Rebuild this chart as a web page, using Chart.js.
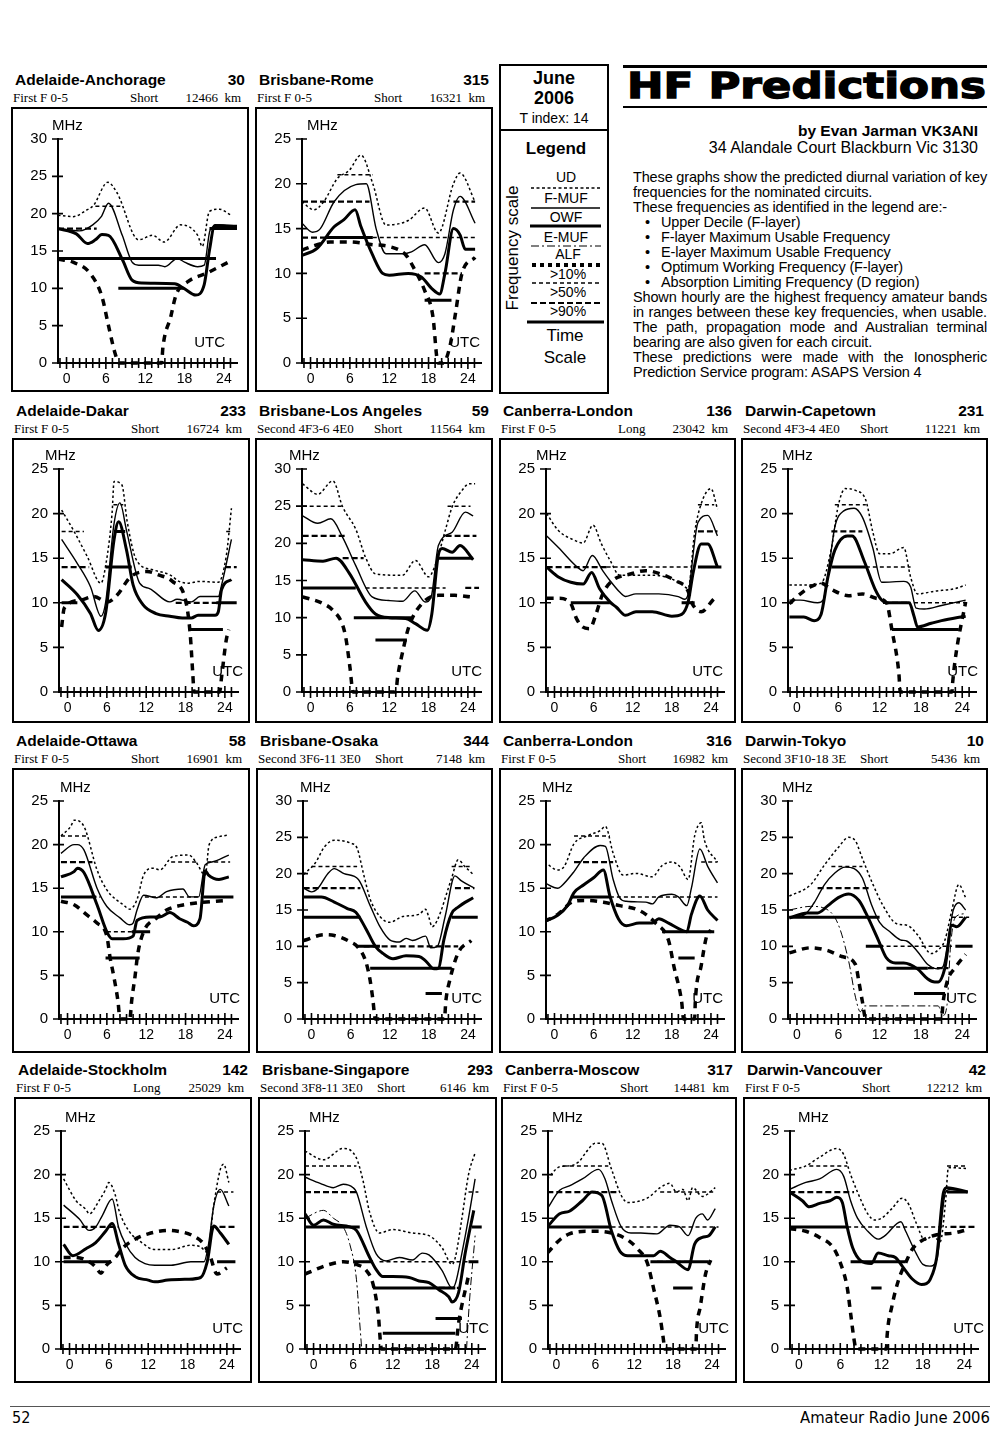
<!DOCTYPE html>
<html>
<head>
<meta charset="utf-8">
<script src="https://cdn.jsdelivr.net/npm/chart.js@4.4.1/dist/chart.umd.min.js"></script>
<style>
  body { margin: 0; width: 1000px; height: 1433px; position: relative; overflow: hidden; background: #fff; color: #000; font-family: "Liberation Sans", Arial, sans-serif; }
  .box { position: absolute; border: 2px solid #000; box-sizing: border-box; background: #fff; }
  .box canvas { position: absolute; left: 0; top: 0; }
  .ttl { position: absolute; font-weight: bold; font-size: 15.5px; line-height: 18px; white-space: nowrap; }
  .sub { position: absolute; font-family: "Liberation Serif", "Times New Roman", serif; font-size: 13px; line-height: 14px; white-space: nowrap; }
  .t { position: absolute; white-space: nowrap; }
  .body-text { position: absolute; left: 633px; top: 170px; width: 354px; font-size: 14.5px; line-height: 15px; letter-spacing: -0.15px; }
  .body-text div { white-space: nowrap; }
  .body-text .b { position: relative; padding-left: 28px; }
  .body-text .b::before { content: "\2022"; position: absolute; left: 12px; }
</style>
</head>
<body>
<script>
// hour labels of the time axis
const hourLabels = [0, 6, 12, 18, 24];

// [hour, MHz] values; bands are [from hour, to hour, band MHz]
const aaUD = [[-1.3,19.8],[1,19.6],[3.1,20.5],[4.1,21.1],[6.3,24.2],[7.7,22.8],[11,16.5],[13.1,17.1],[14.9,16.2],[17.4,18.5],[20,17.1],[20.7,15.6],[21.8,20.3],[23.3,20.6],[25.1,19.8]];
const aaFMUF = [[-1.3,18],[2,17.7],[4,18.5],[5.3,19.6],[6.4,21.4],[8.5,17.1],[10,13.5],[11,13.1],[14,13.1],[15,12.9],[16.9,14],[18,13.5],[20,12.9],[21,13.1],[21.9,17.8],[23.3,18.5],[25.6,18.2]];
const aaOWF = [[-1.3,18],[1.5,17.3],[3.2,16],[4.4,16.5],[5.4,17.2],[6.4,17.1],[8.5,13.9],[10,11.1],[11.5,10.7],[16.5,10.6],[17.9,10],[19.7,9.1],[21,10.5],[21.8,15.1],[22.6,18.4],[26,18.3]];
const aaALF = [[-1.3,13.9],[1,13.5],[3.6,12],[5.4,8.9],[6.4,5],[7.4,1.3],[8,0],[14.5,0],[14.7,2.1],[15.9,6.2],[16.7,9.1],[18.5,10.9],[21.3,12],[24.9,13.6]];
const aaP10 = [[4.4,8.2,21]];
const aaP50 = [[-1.3,4.6,18]];
const aaP90 = [[-1.3,22.8,14],[7.9,17.9,10],[21.8,26,18]];

const brUD = [[-1.3,18],[0.5,17.1],[2,18],[4.1,20.6],[5.9,21.5],[7.7,23.2],[9.5,20],[11.5,15.4],[14.9,15.9],[17.4,17.3],[19.5,14.5],[21.8,20],[22.8,21.2],[25.1,18]];
const brFMUF = [[-1.3,15.6],[0.3,14.6],[1.5,15],[3.6,18],[6.9,19.9],[8.5,20],[10,15],[11.5,12.2],[14.1,12.2],[15.4,12.4],[17.4,13.2],[19.5,11.2],[20.5,12.2],[21.8,17.1],[22.8,18.6],[25.1,15.6]];
const brOWF = [[-1.3,12],[1,12.8],[3.6,15.2],[5.1,16],[6.8,17.1],[7.7,15.2],[9.5,12],[11,10],[12,9.8],[14.9,10],[16.9,9.6],[18.5,8.3],[19.7,7.7],[20.5,10],[21.8,15],[22.8,14.3],[23.6,12.7],[25.1,12.7]];
const brALF = [[-1.3,12.6],[1,13.2],[3,13.5],[6,13.5],[9.5,13.2],[12,13],[14.6,12],[15.9,10.4],[17.4,8.1],[18.7,5],[19.2,1],[19.4,0],[20.2,0],[21.3,2],[22.1,5.5],[23.1,10],[25.1,11.8]];
const brP10 = [[4.1,9.5,21],[9.5,25.1,14]];
const brP50 = [[-1.3,9,18],[-1.3,2.3,14],[17.4,23.1,10],[21.8,25.1,18]];
const brP90 = [[2.3,9.5,14],[17.4,21.5,7]];

const adUD = [[-0.9,20.4],[1,18],[3,15.2],[5.1,12.2],[5.8,14.1],[6.8,20.1],[7.1,23.6],[8.3,23.2],[9.1,19.1],[10.5,14.8],[13,13.7],[15.7,13.1],[17,12.4],[18.5,12.2],[20,12.4],[23,12.3],[24.2,15.2],[25,20.6]];
const adFMUF = [[-0.9,17.1],[1.5,14.4],[3.5,11.8],[5.1,8.5],[5.8,10],[7.1,18.9],[8,21.2],[9,18.1],[11,12.2],[12.5,11.6],[15.6,10.1],[16.7,10.4],[18.9,10.1],[20.2,10.7],[23,10.7],[23.5,12],[25,17.1]];
const adOWF = [[-0.9,12.6],[1.5,10.9],[3.5,8.8],[4.7,6.9],[5.8,8.8],[7.1,17.1],[7.8,19.1],[9,15.9],[10,12],[11.5,9.8],[13.5,8.8],[15.6,8.5],[17.5,8.3],[18.9,8.3],[19.9,8.6],[22.5,8.6],[23,9],[23.5,11.5],[25,12.6]];
const adALF = [[-0.9,7.3],[-0.5,9.4],[2,10.3],[4,10.7],[6.1,10.1],[7.6,10.9],[9.6,12.9],[12.1,13.5],[14,13.1],[16,12.4],[18,10.3],[18.7,6.6],[19.1,2.1],[19.3,0],[23.2,0],[23.5,1.7],[24.2,5.8],[24.6,7]];
const adP10 = [[-0.9,2.5,18],[7,8.5,21],[24.2,25,18]];
const adP50 = [[-0.9,3.3,14],[16.5,23,10],[24,25.8,14]];
const adP90 = [[-0.9,1.5,10],[5.8,9.8,14],[7.1,8.8,18],[18.7,23.7,7],[22.7,25.8,10]];

const blaUD = [[-1.2,28],[1.1,26.6],[3.4,28.4],[4.9,24.9],[6.9,21.9],[8.4,18.1],[9.9,15.9],[14,15.7],[16,17.7],[18,15.5],[19,17],[20.6,21.9],[21.6,24.9],[23,27],[24.2,28],[25.1,28]];
const blaFMUF = [[-1.2,23.7],[1.1,22.7],[3.1,23.3],[4.9,20.8],[6.9,17],[9.4,12.8],[12,12.3],[14,12.2],[15.9,13.6],[17.5,12.1],[18.4,12.8],[19.5,19.7],[21.6,21.5],[23.6,24.2],[24.8,23.7]];
const blaOWF = [[-1.2,17.8],[1.9,17.6],[3.9,18],[5.9,16],[8.4,12.1],[9.9,10.5],[12,10],[14.5,9.9],[16,9.2],[17.8,8.3],[18.5,10.5],[19.5,18.5],[20.1,19.3],[21.6,18.8],[22.8,19.7],[24.8,17.8]];
const blaALF = [[-1.2,12.8],[1.9,11.9],[3.4,11],[4.9,9],[5.4,7.2],[6,3.4],[6.5,0],[13,0],[13.3,2.1],[14,5.2],[15,8.8],[17,11.9],[19.5,13],[22,13],[24.3,12.8]];
const blaP10 = [[-1.2,4.9,25],[20.9,24.4,25],[8.4,20.6,14]];
const blaP50 = [[-1.2,5.6,21],[4.9,8.1,18],[20.6,25.3,21],[23.6,25.7,14]];
const blaP90 = [[-1.2,6.9,14],[6.6,15.4,10],[9.9,14.7,7],[19.5,24.8,18]];

const clUD = [[-1.2,20],[0.6,18.1],[3.1,17],[4.4,16.7],[5.9,18.7],[7.2,16.6],[8.5,14.8],[10,13.1],[14,13.1],[17.1,12.9],[19.5,12.1],[20.5,11.6],[21.5,17.9],[22.5,21.1],[24,22.8],[25,20.5]];
const clFMUF = [[-1.2,17.5],[0.6,16.2],[3.5,14],[4.4,13.6],[5.8,15.3],[7.4,13.6],[8.5,12.5],[10,11.2],[10.9,10.7],[12.5,11],[16,11],[19,10.7],[20,10.4],[20.5,11],[22,19],[23.5,19.8],[25,17.5]];
const clOWF = [[-1.2,14],[0.6,12.9],[2.5,12.3],[4.4,12.1],[5.7,13.4],[6.9,11.6],[8.5,10.1],[9.5,9.5],[10.9,8.6],[12.5,9],[15,9],[18,8.5],[19.5,8.7],[20.5,10.1],[21.3,13.5],[22.5,16.6],[23.5,16.6],[25,14]];
const clALF = [[-1.2,10.5],[0.6,10.5],[2.5,9.9],[3.4,8.2],[4.3,7.3],[5.4,7.1],[6.4,8.8],[7.4,11],[8.9,12.5],[11.5,13.2],[14,13.6],[16,13.3],[18.5,12.5],[20.5,11.3],[21,10.1],[22.5,9],[24.4,10.4]];
const clP10 = [[8,21,14],[22,24.5,21]];
const clP50 = [[-1.2,8,14],[22,25,18]];
const clP90 = [[2.5,8.5,10],[19.5,21.5,10],[22,25.6,14]];

const dcUD = [[-1.1,12],[1,12],[3.5,12.2],[5,16.1],[6,20.9],[7,22.8],[8.5,22.6],[10,21.5],[11,18],[12,15.5],[13.5,15.5],[15.5,16.2],[16.5,12.9],[17.5,11],[20,11.3],[23,11.6],[24.5,12]];
const dcFMUF = [[-1.1,10.3],[0.5,10.3],[3,10],[3.8,10.3],[4.8,14.9],[5.5,18.5],[6.8,20.3],[8.3,20.6],[9.5,19.6],[11,16.2],[12.3,12.3],[15.5,12.4],[16.5,11.8],[17.3,9.4],[18.5,9.3],[21,9.7],[24.5,10.3]];
const dcOWF = [[-1.1,8.4],[1,8.4],[2.5,8],[3.5,8.7],[4.5,12.9],[5.5,15.9],[7.3,17.5],[8,17.5],[9.8,14.6],[11.3,11.6],[12.3,10.3],[13,10],[16.3,10],[17,8.5],[17.5,7.3],[19.5,7.7],[21,8],[24.5,8.5]];
const dcALF = [[-1.1,9.9],[0.5,11],[2,11.8],[3.5,12.2],[5,11.5],[7.5,10.8],[9.5,11],[11.5,10.5],[13,10],[13.8,6.9],[14.8,2.1],[15,0],[22.5,0],[22.6,1],[23.1,4.3],[24.5,10.1]];
const dcP10 = [[5.5,10,21],[10,16.5,14],[17,24.8,10]];
const dcP50 = [[5,9.5,18],[12.5,16.5,10]];
const dcP90 = [[5,10,14],[13.8,23.5,7]];

const aoUD = [[-1,21],[0.5,22.1],[1,22.8],[2.5,22.1],[4.5,17.1],[6,14.8],[8.5,13.1],[9.5,12.6],[10.6,13.7],[11.6,16.5],[13.1,17.3],[14.1,17.1],[16,18.6],[18.5,18.8],[19.6,18],[21,16.5],[21.6,20],[23.1,20.9],[24.6,21.1]];
const aoFMUF = [[-1,19],[1,20],[1.5,20],[2.5,19.4],[4.5,15],[6,12.9],[8,11.6],[9.5,10.8],[10,11],[10.6,12.5],[11.6,14.2],[13.6,13.9],[15.1,14.6],[17.6,14.9],[18.6,14],[20,14],[21,17.7],[22,18],[24.6,18.8]];
const aoOWF = [[-1,16.3],[1,16.9],[1.5,17.3],[2.5,16.8],[4.5,13.1],[6,10],[6.8,9.2],[8.5,9.2],[10,9.5],[10.6,11.3],[12.6,11.7],[14.1,11.7],[15.6,12.2],[17.1,11.5],[18.3,11.1],[19.2,10.7],[20.2,11.5],[21,17],[21.5,16.5],[23.1,16],[24.6,16.3]];
const aoALF = [[-1,13.5],[1,13.1],[3,11.9],[4.5,11],[6,9.5],[6.5,7],[7,5.1],[7.7,2],[8,0],[9.5,0],[9.8,2.2],[10.3,4.9],[10.7,7.4],[11.6,10],[13.6,11.6],[15.1,12.5],[17.1,13],[19.6,13.3],[24.1,13.6]];
const aoP10 = [[-1,3,21],[6,11.8,10],[11.8,21,14],[15.8,19.8,18],[21.3,24.8,18]];
const aoP50 = [[-1,3.8,18],[3.5,5,14]];
const aoP90 = [[-1,4.3,14],[5.8,11,7],[9.8,12.6,10],[20.8,25.3,14]];

const boUD = [[-1.2,19.9],[0.6,21.5],[2,23.7],[3.5,24.6],[6,24.2],[7,23.5],[8,19.9],[9,16.5],[10.5,14.1],[12,13.3],[14,14.1],[16.5,14.4],[17.5,15.1],[18,14],[18.5,12.7],[19.3,13.6],[21.5,19.4],[22.5,21.9],[23.5,21],[24.8,19.9]];
const boFMUF = [[-1.2,18],[0,17.5],[1,18],[2.5,20],[3.5,20.7],[5,20],[7.2,19.2],[9,15.6],[10.5,12.7],[12,10.9],[13.5,10.6],[14.5,11.1],[15.5,10.8],[17.5,11.4],[18.3,9.8],[19.3,10],[20.5,14.1],[22,19.7],[23,19],[24.8,18.1]];
const boOWF = [[-1.2,16.8],[1.5,16.8],[3.5,16.1],[5.5,15.2],[6.8,14.7],[8.3,12.5],[9.8,10],[11,9],[12.5,8.3],[14.5,8.7],[16.5,8.6],[17.5,8],[18.8,6.9],[19.5,7],[20.3,10.9],[21.5,14.5],[22.5,15.4],[24.8,16.7]];
const boALF = [[-1.2,10.8],[2,11.6],[3.5,11.5],[6,10.6],[7,10],[8.3,8],[9,5.3],[9.4,2.8],[9.8,0],[20.4,0],[20.6,2.4],[21.2,5.3],[22.5,9.1],[24.5,10.8]];
const boP10 = [[0,7,21],[21.5,24.5,21]];
const boP50 = [[-1.2,7.5,18],[8,22.5,10],[22,25,18]];
const boP90 = [[-1.2,7.5,14],[7,10.5,10],[9,21.5,7],[17.5,20,3.5],[21.5,25.5,14]];

const cl2UD = [[-1.5,18],[0.5,17.1],[1.5,17.5],[3,20.1],[5,21],[7,21.6],[7.8,22.1],[9,19],[10.5,16.5],[12.5,16.7],[15,16.3],[16.5,17.6],[18,18],[19.2,17.5],[20.5,16],[21.5,21],[22.5,22.5],[23,20.5],[25,18]];
const cl2FMUF = [[-1.5,15.6],[0.5,15],[1,15.2],[3,16.9],[4.5,18.5],[7,19.9],[7.8,19.8],[9,16],[10,13.9],[11,13.5],[14,13.4],[15,13.2],[16,14],[18,14.3],[19,14],[20.3,13],[21,15],[22.3,19.5],[23.5,17.5],[25,15.6]];
const cl2OWF = [[-1.5,11.2],[0.5,11.9],[2,13],[3,14.5],[4.5,15.4],[6,16.2],[7.5,17.1],[8.5,14.1],[9.8,11.5],[11,10.7],[13,11],[15,11],[16,11.5],[17.5,11],[19.5,10.2],[20.3,10],[21,12],[22.3,14.1],[23.5,12.5],[25,11.3]];
const cl2ALF = [[-1.5,11.2],[0.5,12],[3,13.5],[5,13.6],[7.5,13.4],[10,13],[12.5,12.6],[14,12],[15.5,11],[17.5,9],[18.3,6.1],[19.5,2],[19.8,0],[21.5,0],[21.6,2],[22.5,6.1],[23.3,9.4],[24,10.2]];
const cl2P10 = [[3,8.5,21],[8.5,25,14],[22.5,25,18]];
const cl2P50 = [[3,9,18]];
const cl2P90 = [[2.5,8.5,14],[16.5,24.5,10],[19,21.5,7]];

const dtUD = [[-1.1,16.9],[2,18.5],[4,21.2],[6,23.6],[7.5,25],[8.5,24.5],[9.5,22.1],[11,18.6],[12.5,15.6],[14.5,13.1],[16,12.9],[17.5,11.6],[19.5,9],[20.5,9.5],[21.5,10.9],[22.5,15],[23.5,18.5],[24.5,16.7]];
const dtFMUF = [[-1.1,14],[1,14.3],[2.5,16],[4,18.5],[5.5,20.1],[7,20.9],[8.3,20.7],[9.5,19.4],[10.8,15.8],[12,13.3],[13.5,12],[15,10.9],[16,10.7],[17.5,9.3],[19,7.5],[20.5,6.9],[21.2,7.2],[22.3,13],[22.7,15],[23.5,16],[24.5,15]];
const dtOWF = [[-1.1,13.9],[1.5,14.6],[3,14.6],[4.5,15.6],[6,16.7],[7.5,17.2],[9,16.3],[10,14.6],[11.8,10.9],[13,8.4],[14.3,7.7],[15.5,7.7],[17.5,6.9],[19,5.5],[20,5.1],[20.5,5.1],[21.5,7.1],[22.5,12.9],[23.2,12.7],[24.5,14]];
const dtEMUF = [[-1.1,15],[2,15.5],[4.5,15],[6,13],[7.5,8],[8.5,3],[9.2,1],[9.8,1.8],[20.5,1.8],[21.2,0.5],[21.8,2],[22.3,10],[23,14],[24.5,14.5]];
const dtALF = [[-1.1,9.1],[2,9.8],[4.5,9.4],[6.5,8.6],[8.5,7.5],[9,5.1],[9.5,2.4],[10,0],[21,0],[21.2,2.1],[21.8,5.1],[23,7.1],[24.5,8.9]];
const dtP10 = [[5,9.5,21],[12,22.5,10],[22.5,25,14]];
const dtP50 = [[3,10.5,18],[19,22,7]];
const dtP90 = [[-1.1,12,14],[10,12.5,10],[13,19,7],[17,21.5,3.5],[23,25.5,10]];

const astUD = [[-0.9,19.5],[1,17],[2.5,16],[3,15.5],[4.5,17],[5.5,18.3],[6,19.1],[7,17.6],[7.5,16],[9,13.6],[11,12.2],[13,11.4],[15.5,11.4],[18.5,11.9],[20,11.7],[21,11.1],[22,16.5],[23,20.6],[23.5,21.2],[24.3,19.1]];
const astFMUF = [[-0.9,16.5],[1.5,14.9],[3,13.6],[4,14],[5,15.3],[6.5,17.2],[7.5,13.9],[8.5,12.1],[10,10.5],[11.5,9.8],[13,9.6],[15.5,9.6],[18.5,10],[20.5,10],[21.2,12],[22,16.4],[23,18.3],[24.3,16.4]];
const astOWF = [[-0.9,12],[0.5,10.7],[2.5,11.5],[4,12.2],[5.5,13.5],[6.5,14.4],[7.5,12],[8.5,9.6],[10,8.3],[12,7.9],[13,7.7],[15,7.9],[18,8],[20,8.2],[21,10],[22,14.1],[23,13.3],[24.3,12]];
const astALF = [[-0.9,10.5],[1,10.5],[3,10],[4,9.4],[4.8,8.7],[5.5,9.5],[7,10.5],[8,11.5],[10,12.6],[12,13.2],[15,13.6],[16.5,13.5],[18.5,13.1],[20.5,12],[21.5,10.5],[22.5,8.6],[24,9.3]];
const astP10 = [[22.5,25,18]];
const astP50 = [[-0.9,7.5,14],[21.5,25.3,14]];
const astP90 = [[-0.9,6.3,10],[22.5,25.3,10]];

const bsUD = [[-1.3,22.7],[1.5,21.7],[4.5,23],[6.5,21.9],[7.5,19.3],[8.5,15.7],[10,13.3],[12,13.7],[15,13.3],[17.5,13],[19.5,11.6],[21,9.7],[21.5,10.5],[22.5,15],[23.5,20],[24.5,22.5]];
const bsFMUF = [[-1.3,19.7],[1,19],[3,18.5],[4.5,18.9],[6,18.5],[6.5,18],[8,14],[9.5,10.9],[11,10.1],[13,10.5],[15,10.2],[16.5,11],[17.5,10.8],[19.5,9],[21,7],[21.5,7.5],[22.5,11],[23.5,15],[24.5,19.5]];
const bsOWF = [[-1.3,15.5],[0,14.2],[1.5,14.8],[3,14.3],[5.5,14],[6.5,13.6],[8.5,10.5],[9.5,9.1],[10.5,8.3],[12,8.3],[14.5,8.2],[16,7.8],[17.5,7.6],[19,6.8],[20.5,6],[21,5.4],[22,6.5],[23,11],[24.3,15.9]];
const bsEMUF = [[-1.3,15],[1.5,15.9],[3,15],[4.5,14],[5.5,12],[6.5,8],[7,3],[7.3,0],[15,null],[23.2,0],[23.6,5],[24.5,13]];
const bsALF = [[-1.3,8.6],[2,9.6],[4.5,10],[6.5,9.7],[8,9],[9,7.5],[9.8,4.1],[10.3,0],[21.5,0],[22,3],[23.5,8.4]];
const bsP10 = [[-1.3,6.5,21],[10,24.5,10],[23.5,25,18]];
const bsP50 = [[-1.3,6.5,18],[19,22,7]];
const bsP90 = [[-1.3,7,14],[6,9,10],[9,21.5,7],[10.5,21.5,1.8],[18.5,22.5,3.5],[23.5,25,10],[24,25.5,14]];

const cmUD = [[-1.4,19.5],[0.5,20.9],[2,21],[3.5,21.5],[4.5,22.5],[6,23.6],[7,23.6],[8.5,20.6],[10,17.6],[11,16.8],[14,17.3],[16,18.5],[17.5,19],[18.5,18],[19.5,18.3],[20.3,17],[21,18.5],[22.5,17.5],[24.5,18.5]];
const cmFMUF = [[-1.4,16.1],[0.5,18.2],[2,18.7],[4,19.5],[6.5,20.6],[7.5,19.5],[8.5,17],[10,14],[11.5,13.3],[13,13.3],[15.5,13.2],[17.5,14.2],[19,14],[20.3,13],[21.5,15],[22.5,15.5],[23.3,14.8],[24.5,16.1]];
const cmOWF = [[-1.4,14],[0.5,15.5],[2,15.8],[4,17],[5.5,18],[7,17.6],[8.5,13.5],[9.8,11.2],[11,10.7],[13.5,10.7],[15,10.7],[16,11.2],[17.5,10.5],[18.5,10],[20.3,9.1],[21.3,12],[22.5,12.8],[23.5,13],[24.5,14]];
const cmALF = [[-1.4,11],[0.5,12.5],[2,13.2],[4.5,13.5],[6.5,13.5],[9,13.2],[11,12.5],[12.5,11.5],[14,9.9],[15,6.9],[16,3.6],[16.5,1.1],[16.7,0],[21.5,0],[21.6,1.9],[22.2,4.9],[23,8.6],[23.8,10.2]];
const cmP10 = [[1,8,21],[8.5,25,14],[16,24.5,18]];
const cmP50 = [[-1.4,9.5,18],[15.5,21,10]];
const cmP90 = [[-1.4,8.5,14],[14.5,23.5,10],[18,21,7]];

const dvUD = [[-1.4,20.5],[1,21],[3,22],[5.5,23],[6.5,22.3],[7.5,20],[8.5,18],[10,15.5],[11,14.8],[12,15],[13.5,16.1],[15,17.3],[16,16.5],[17,14.5],[18.3,12.5],[19.5,13],[20.5,12.3],[21.3,17],[21.7,20.8],[24.5,20.7]];
const dvFMUF = [[-1.4,18.3],[1,19.1],[3,19.5],[5.5,20.6],[6.5,19.8],[7.5,17],[8.5,15],[10,13.5],[11.5,12.6],[12.5,13],[14.8,14.6],[15.5,13.5],[17,11],[18,9.7],[19,9.5],[20,10.2],[21.3,18],[22,18.3],[24.5,18]];
const dvOWF = [[-1.4,18],[0.5,17],[1.5,16.3],[3,16.7],[4.5,17],[5.5,17.4],[6.3,16.8],[7,14],[7.8,11.6],[9,10.1],[10.5,9.8],[11.5,11],[13,10.7],[14,10.5],[15,9.5],[16.5,8],[17.8,7.4],[18.5,7.5],[19,7.9],[20,10.5],[21,18],[21.5,18.5],[24.5,18]];
const dvALF = [[-1.4,13.8],[1,13.5],[3,12.8],[5,11.6],[6,9.9],[7,7.1],[7.5,4.1],[8,1.1],[8.3,0],[12.7,0],[12.8,1.5],[13.5,4.9],[14.5,8],[15.5,9.9],[16.5,11.5],[18,12.5],[20,13.1],[22.5,13.3],[24.5,13.7]];
const dvP10 = [[1.5,7,21],[21.5,24.5,21],[7,21.5,14]];
const dvP50 = [[-1.4,8,18],[22,25.5,14]];
const dvP90 = [[-1.4,7,14],[7.5,15.5,10],[10.5,12,7],[21.5,24.5,18]];

// page grid of the graph boxes
const rowTop = [107, 438, 768, 1097];
const rowH = [285, 285, 285, 286];
const colLeft = [[11, 255], [12, 255, 499, 741], [12, 256, 499, 741], [14, 258, 501, 743]];
const colW = [[238, 238], [238, 238, 237, 247], [238, 237, 237, 247], [238, 239, 236, 247]];
const plotTop = [32, 31, 33, 34];
const plotBottom = [256, 254, 251, 252];

const charts = [
  { title: "Adelaide-Anchorage", bearing: "30", mode: "First F 0-5", path: "Short", dist: "12466", ymax: 30, row: 0, col: 0, mhzDx: -6, utcDx: 24, ud: aaUD, fmuf: aaFMUF, owf: aaOWF, emuf: [], alf: aaALF, p10: aaP10, p50: aaP50, p90: aaP90 },
  { title: "Brisbane-Rome", bearing: "315", mode: "First F 0-5", path: "Short", dist: "16321", ymax: 25, row: 0, col: 1, mhzDx: 5, utcDx: 13, ud: brUD, fmuf: brFMUF, owf: brOWF, emuf: [], alf: brALF, p10: brP10, p50: brP50, p90: brP90 },
  { title: "Adelaide-Dakar", bearing: "233", mode: "First F 0-5", path: "Short", dist: "16724", ymax: 25, row: 1, col: 0, mhzDx: -14, utcDx: 7, ud: adUD, fmuf: adFMUF, owf: adOWF, emuf: [], alf: adALF, p10: adP10, p50: adP50, p90: adP90 },
  { title: "Brisbane-Los Angeles", bearing: "59", mode: "Second 4F3-6 4E0", path: "Short", dist: "11564", ymax: 30, row: 1, col: 1, mhzDx: -13, utcDx: 11, ud: blaUD, fmuf: blaFMUF, owf: blaOWF, emuf: [], alf: blaALF, p10: blaP10, p50: blaP50, p90: blaP90 },
  { title: "Canberra-London", bearing: "136", mode: "First F 0-5", path: "Long", dist: "23042", ymax: 25, row: 1, col: 2, mhzDx: -10, utcDx: 13, ud: clUD, fmuf: clFMUF, owf: clOWF, emuf: [], alf: clALF, p10: clP10, p50: clP50, p90: clP90 },
  { title: "Darwin-Capetown", bearing: "231", mode: "Second 4F3-4 4E0", path: "Short", dist: "11221", ymax: 25, row: 1, col: 3, mhzDx: -6, utcDx: 10, ud: dcUD, fmuf: dcFMUF, owf: dcOWF, emuf: [], alf: dcALF, p10: dcP10, p50: dcP50, p90: dcP90 },
  { title: "Adelaide-Ottawa", bearing: "58", mode: "First F 0-5", path: "Short", dist: "16901", ymax: 25, row: 2, col: 0, mhzDx: 1, utcDx: 10, ud: aoUD, fmuf: aoFMUF, owf: aoOWF, emuf: [], alf: aoALF, p10: aoP10, p50: aoP50, p90: aoP90 },
  { title: "Brisbane-Osaka", bearing: "344", mode: "Second 3F6-11 3E0", path: "Short", dist: "7148", ymax: 30, row: 2, col: 1, mhzDx: -3, utcDx: 11, ud: boUD, fmuf: boFMUF, owf: boOWF, emuf: [], alf: boALF, p10: boP10, p50: boP50, p90: boP90 },
  { title: "Canberra-London", bearing: "316", mode: "First F 0-5", path: "Short", dist: "16982", ymax: 25, row: 2, col: 2, mhzDx: -4, utcDx: 13, ud: cl2UD, fmuf: cl2FMUF, owf: cl2OWF, emuf: [], alf: cl2ALF, p10: cl2P10, p50: cl2P50, p90: cl2P90 },
  { title: "Darwin-Tokyo", bearing: "10", mode: "Second 3F10-18 3E", path: "Short", dist: "5436", ymax: 30, row: 2, col: 3, mhzDx: -6, utcDx: 11, ud: dtUD, fmuf: dtFMUF, owf: dtOWF, emuf: dtEMUF, alf: dtALF, p10: dtP10, p50: dtP50, p90: dtP90 },
  { title: "Adelaide-Stockholm", bearing: "142", mode: "First F 0-5", path: "Long", dist: "25029", ymax: 25, row: 3, col: 0, mhzDx: 4, utcDx: 9, ud: astUD, fmuf: astFMUF, owf: astOWF, emuf: [], alf: astALF, p10: astP10, p50: astP50, p90: astP90 },
  { title: "Brisbane-Singapore", bearing: "293", mode: "Second 3F8-11 3E0", path: "Short", dist: "6146", ymax: 25, row: 3, col: 1, mhzDx: 4, utcDx: 8, ud: bsUD, fmuf: bsFMUF, owf: bsOWF, emuf: bsEMUF, alf: bsALF, p10: bsP10, p50: bsP50, p90: bsP90 },
  { title: "Canberra-Moscow", bearing: "317", mode: "First F 0-5", path: "Short", dist: "14481", ymax: 25, row: 3, col: 2, mhzDx: 4, utcDx: 8, ud: cmUD, fmuf: cmFMUF, owf: cmOWF, emuf: [], alf: cmALF, p10: cmP10, p50: cmP50, p90: cmP90 },
  { title: "Darwin-Vancouver", bearing: "42", mode: "First F 0-5", path: "Short", dist: "12212", ymax: 25, row: 3, col: 3, mhzDx: 8, utcDx: 6, ud: dvUD, fmuf: dvFMUF, owf: dvOWF, emuf: [], alf: dvALF, p10: dvP10, p50: dvP50, p90: dvP90 },
];

Chart.defaults.font.family = '"Liberation Sans", Arial, sans-serif';
Chart.defaults.color = "#000";

// hour ticks crossing the time axis, MHz / UTC captions
const decor = {
  id: "decor",
  afterDraw(chart, args, opts) {
    const { ctx, chartArea: a, scales: { x, y } } = chart;
    ctx.save();
    ctx.strokeStyle = "#000";
    ctx.lineWidth = 1.6;
    ctx.beginPath();
    for (let h = -1; h <= 25; h++) {
      const px = x.getPixelForValue(h);
      const len = h % 6 === 0 ? 6 : 5;
      ctx.moveTo(px, a.bottom - len);
      ctx.lineTo(px, a.bottom + len);
    }
    for (let v = 0; v <= y.max; v += 5) {
      const py = y.getPixelForValue(v);
      ctx.moveTo(a.left - 6, py);
      ctx.lineTo(a.left + 5, py);
    }
    ctx.stroke();
    ctx.fillStyle = "#000";
    ctx.font = '15px "Liberation Sans", Arial, sans-serif';
    ctx.textBaseline = "middle";
    ctx.textAlign = "left";
    ctx.fillText("MHz", a.left + opts.mhzDx, a.top - 13);
    ctx.textAlign = "right";
    ctx.fillText("UTC", chart.width - opts.utcDx + 2, a.bottom - 20);
    ctx.restore();
  },
};

const noClip = { left: 0, top: false, right: false, bottom: false };

function curve(pairs, width, dash) {
  return {
    data: pairs.map(([x, y]) => ({ x, y })),
    borderColor: "#000", borderWidth: width, borderDash: dash,
    pointRadius: 0, fill: false, cubicInterpolationMode: "monotone",
    spanGaps: false, clip: noClip,
  };
}

function bands(segs, width, dash) {
  const pts = [];
  segs.forEach(([from, to, mhz]) => {
    pts.push({ x: from, y: mhz }, { x: to, y: mhz }, { x: to, y: null });
  });
  return {
    data: pts, borderColor: "#000", borderWidth: width, borderDash: dash,
    pointRadius: 0, fill: false, tension: 0, spanGaps: false, clip: noClip,
  };
}

function addDiv(cls, text, style) {
  const d = document.createElement("div");
  d.className = cls;
  d.innerHTML = text;
  Object.assign(d.style, style);
  document.body.appendChild(d);
  return d;
}

charts.forEach((c) => {
  const L = colLeft[c.row][c.col], T = rowTop[c.row];
  const W = colW[c.row][c.col], H = rowH[c.row];

  addDiv("ttl", c.title, { left: L + 4 + "px", top: T - 36 + "px" });
  addDiv("ttl", c.bearing, { left: L + "px", width: W - 4 + "px", textAlign: "right", top: T - 36 + "px" });
  addDiv("sub", c.mode, { left: L + 2 + "px", top: T - 16 + "px" });
  addDiv("sub", c.path, { left: L + 119 + "px", top: T - 16 + "px" });
  addDiv("sub", c.dist + "&nbsp; km", { left: L + "px", width: W - 8 + "px", textAlign: "right", top: T - 16 + "px" });

  const box = addDiv("box", "", { left: L + "px", top: T + "px", width: W + "px", height: H + "px" });
  const cv = document.createElement("canvas");
  const cw = W - 4, ch = H - 4;
  cv.width = cw; cv.height = ch;
  cv.style.width = cw + "px"; cv.style.height = ch + "px";
  box.appendChild(cv);

  const top = plotTop[c.row] - 2, bottom = plotBottom[c.row] - 2;

  new Chart(cv, {
    type: "line",
    data: {
      datasets: [
        curve(c.ud, 1.5, [2.5, 2.5]),
        curve(c.fmuf, 1.4, []),
        curve(c.owf, 3, []),
        curve(c.emuf, 1, [8, 3, 2, 3]),
        curve(c.alf, 3.5, [7, 6]),
        bands(c.p10, 1.5, [4, 3]),
        bands(c.p50, 2.2, [6, 3]),
        bands(c.p90, 3, []),
      ],
    },
    options: {
      responsive: false,
      animation: false,
      events: [],
      layout: { padding: { top: top, right: 10, left: 0, bottom: 0 } },
      plugins: {
        legend: { display: false },
        tooltip: { enabled: false },
        decor: { mhzDx: c.mhzDx, utcDx: c.utcDx },
      },
      scales: {
        x: {
          type: "linear", min: -1.3, max: 26,
          grid: { display: false, drawTicks: false },
          border: { display: true, color: "#000", width: 2 },
          afterBuildTicks: (s) => { s.ticks = hourLabels.map((v) => ({ value: v })); },
          afterFit: (s) => { s.height = ch - bottom; },
          ticks: { color: "#000", font: { size: 14 }, padding: 8, autoSkip: false, maxRotation: 0 },
        },
        y: {
          type: "linear", min: 0, max: c.ymax,
          grid: { display: false, drawTicks: false },
          border: { display: true, color: "#000", width: 2 },
          afterFit: (s) => { s.width = 45; },
          ticks: { stepSize: 5, color: "#000", font: { size: 15 }, padding: 11 },
        },
      },
    },
    plugins: [decor],
  });
});
</script>

<!-- month / legend panel -->
<div class="box" style="left:499px;top:64px;width:110px;height:330px;">
  <div class="t" style="left:0;width:106px;text-align:center;top:1px;font-weight:bold;font-size:18px;line-height:22px;">June</div>
  <div class="t" style="left:0;width:106px;text-align:center;top:21px;font-weight:bold;font-size:18px;line-height:22px;">2006</div>
  <div class="t" style="left:0;width:106px;text-align:center;top:44px;font-size:14px;line-height:17px;">T index: 14</div>
  <div class="t" style="left:-2px;width:110px;top:63px;height:2px;background:#000;"></div>
  <div class="t" style="left:0;width:110px;text-align:center;top:72px;font-weight:bold;font-size:17px;line-height:22px;">Legend</div>
  <div class="t" style="left:-53px;top:172px;width:130px;text-align:center;font-size:17px;line-height:20px;transform:rotate(-90deg);">Frequency scale</div>
  <div class="t" style="left:28px;width:74px;text-align:center;top:103px;font-size:14px;line-height:16px;">UD</div>
  <div class="t" style="left:28px;width:74px;text-align:center;top:124px;font-size:14px;line-height:16px;">F-MUF</div>
  <div class="t" style="left:28px;width:74px;text-align:center;top:143px;font-size:14px;line-height:16px;">OWF</div>
  <div class="t" style="left:28px;width:74px;text-align:center;top:163px;font-size:14px;line-height:16px;">E-MUF</div>
  <div class="t" style="left:30px;width:74px;text-align:center;top:180px;font-size:14px;line-height:16px;">ALF</div>
  <div class="t" style="left:30px;width:74px;text-align:center;top:200px;font-size:14px;line-height:16px;">&gt;10%</div>
  <div class="t" style="left:30px;width:74px;text-align:center;top:218px;font-size:14px;line-height:16px;">&gt;50%</div>
  <div class="t" style="left:30px;width:74px;text-align:center;top:237px;font-size:14px;line-height:16px;">&gt;90%</div>
  <div class="t" style="left:22px;width:84px;text-align:center;top:260px;font-size:17px;line-height:20px;">Time</div>
  <div class="t" style="left:22px;width:84px;text-align:center;top:282px;font-size:17px;line-height:20px;">Scale</div>
  <svg class="t" style="left:0;top:0;" width="106" height="326">
    <line x1="30" y1="122" x2="100" y2="122" stroke="#000" stroke-width="1.6" stroke-dasharray="3 2.5"/>
    <line x1="30" y1="142" x2="99" y2="142" stroke="#000" stroke-width="1.4"/>
    <line x1="29" y1="160" x2="100" y2="160" stroke="#000" stroke-width="3.2"/>
    <line x1="30" y1="180" x2="100" y2="180" stroke="#000" stroke-width="1" stroke-dasharray="8 3 2 3"/>
    <line x1="31" y1="199" x2="100" y2="199" stroke="#000" stroke-width="4" stroke-dasharray="4 4"/>
    <line x1="31" y1="217" x2="101" y2="217" stroke="#000" stroke-width="1.5" stroke-dasharray="4 3"/>
    <line x1="30" y1="237" x2="101" y2="237" stroke="#000" stroke-width="2.2" stroke-dasharray="6 3"/>
    <line x1="26" y1="256" x2="103" y2="256" stroke="#000" stroke-width="3.2"/>
  </svg>
</div>

<!-- heading -->
<div class="t" style="left:623px;top:65px;width:364px;height:3px;background:#000;"></div>
<div class="t" id="hf" style="left:627px;top:69px;font-family:'DejaVu Sans',sans-serif;font-weight:bold;font-size:35px;line-height:35px;-webkit-text-stroke:1.3px #000;transform-origin:0 0;">HF Predictions</div>
<div class="t" style="left:623px;top:106px;width:364px;height:2px;background:#000;"></div>
<div class="t" style="left:600px;width:378px;text-align:right;top:122px;font-weight:bold;font-size:15.5px;line-height:18px;">by Evan Jarman VK3ANI</div>
<div class="t" style="left:600px;width:378px;text-align:right;top:139px;font-size:16px;line-height:18px;">34 Alandale Court Blackburn Vic 3130</div>

<div class="body-text">
  <div class="j"><span>These graphs show the predicted diurnal variation of key</span></div>
  <div>frequencies for the nominated circuits.</div>
  <div>These frequencies as identified in the legend are:-</div>
  <div class="b">Upper Decile (F-layer)</div>
  <div class="b">F-layer Maximum Usable Frequency</div>
  <div class="b">E-layer Maximum Usable Frequency</div>
  <div class="b">Optimum Working Frequency (F-layer)</div>
  <div class="b">Absorption Limiting Frequency (D region)</div>
  <div class="j"><span>Shown hourly are the highest frequency amateur bands</span></div>
  <div class="j"><span>in ranges between these key frequencies, when usable.</span></div>
  <div class="j"><span>The path, propagation mode and Australian terminal</span></div>
  <div>bearing are also given for each circuit.</div>
  <div class="j"><span>These predictions were made with the Ionospheric</span></div>
  <div>Prediction Service program: ASAPS Version 4</div>
</div>

<!-- page footer -->
<div class="t" style="left:10px;top:1406px;width:980px;height:1px;background:#555;"></div>
<div class="t" style="left:12px;top:1409px;font-family:'Liberation Sans Narrow','DejaVu Sans Condensed',sans-serif;font-size:16px;line-height:18px;">52</div>
<div class="t" id="foot" style="left:800px;top:1409px;font-family:'Liberation Sans Narrow','DejaVu Sans Condensed',sans-serif;font-size:16px;line-height:18px;transform-origin:0 0;">Amateur Radio June 2006</div>

<script>
function fitWidth(id, w) {
  const el = document.getElementById(id);
  const cur = el.getBoundingClientRect().width;
  if (cur > 0) el.style.transform = "scaleX(" + (w / cur) + ")";
}
fitWidth("hf", 359);
fitWidth("foot", 190);

// stretch or squeeze word gaps so the justified lines fill the column
document.querySelectorAll(".body-text .j span").forEach((s) => {
  const full = 354;
  const gaps = (s.textContent.match(/ /g) || []).length;
  const w = s.getBoundingClientRect().width;
  if (gaps > 0) s.style.wordSpacing = ((full - w) / gaps) + "px";
});
</script>
</body>
</html>
